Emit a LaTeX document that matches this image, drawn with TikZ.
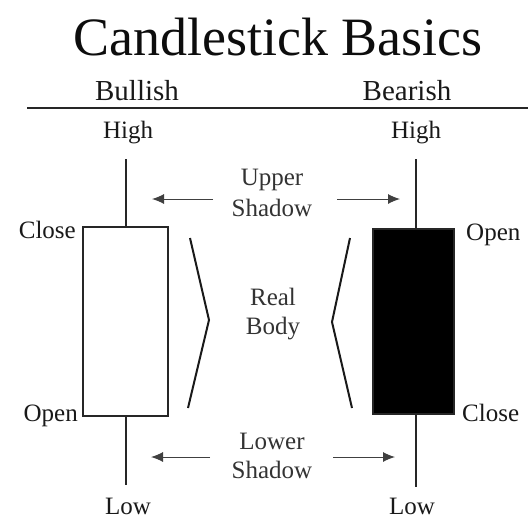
\documentclass[tikz,border=0pt]{standalone}
\usepackage{fontspec}
\setmainfont{Liberation Serif}
\usetikzlibrary{arrows.meta}
\begin{document}
\begin{tikzpicture}[x=1pt,y=-1pt,
  heading/.style={font=\fontsize{29}{32}\selectfont, text=black!90, inner sep=0pt, anchor=base},
  lbl/.style={font=\fontsize{25}{30}\selectfont, text=black!90, inner sep=0pt, anchor=base},
  note/.style={lbl, text=black!80},
  wick/.style={line width=2.4pt, black!85},
  brk/.style={line width=2pt, black!90},
  ptr/.style={line width=1pt, black!75, -{Latex[length=12pt,width=10pt]}},
  candle/.style={draw=black!85, line width=2pt, inner sep=0pt}
]
\useasboundingbox (0,0) rectangle (528,520);

% titles and the rule under the column headings
\node[anchor=base, inner sep=0pt, font=\fontsize{54}{60}\selectfont, text=black!95] (title) at (278,55) {Candlestick Basics};
\node[heading] (bull) at (137,100) {Bullish};
\node[heading] (bear) at (407,100) {Bearish};
\coordinate (ruleA) at (27,108);
\coordinate (ruleB) at (528,108);
\draw[line width=2.6pt, black!85] (ruleA) -- (ruleB);

% bullish candle
\node[candle, fill=white, minimum width=85pt, minimum height=189pt] (bodyL) at (125.5,321.5) {};
\coordinate (hiL) at (126,159);
\coordinate (loL) at (126,485);
\draw[wick] (hiL) -- (hiL |- bodyL.north);
\draw[wick] (loL |- bodyL.south) -- (loL);
\node[lbl] (highL) at (128,138) {High};
\node[lbl, anchor=base east] (closeL) at (76,238) {Close};
\node[lbl, anchor=base east] (openL) at (78,421) {Open};
\node[lbl] (lowL) at (128,514) {Low};

% bearish candle
\node[candle, fill=black, minimum width=81pt, minimum height=185pt] (bodyR) at (413.5,321.5) {};
\coordinate (hiR) at (416,159);
\coordinate (loR) at (416,487);
\draw[wick] (hiR) -- (hiR |- bodyR.north);
\draw[wick] (loR |- bodyR.south) -- (loR);
\node[lbl] (highR) at (416,138) {High};
\node[lbl, anchor=base west] (openR) at (466,240) {Open};
\node[lbl, anchor=base west] (closeR) at (462,421) {Close};
\node[lbl] (lowR) at (412,514) {Low};

% upper shadow
\node[note] (upA) at (272,185) {Upper};
\node[note] (upB) at (272,216) {Shadow};
\coordinate (upLs) at (213,199);
\coordinate (upLt) at (152,199);
\coordinate (upRs) at (337,199);
\coordinate (upRt) at (400,199);
\draw[ptr] (upLs) -- (upLt);
\draw[ptr] (upRs) -- (upRt);

% real body with its brackets
\node[note] (realA) at (273,305) {Real};
\node[note] (realB) at (273,334) {Body};
\coordinate (bl1) at (190,238);
\coordinate (bl2) at (209,320);
\coordinate (bl3) at (188,408);
\coordinate (br1) at (350,238);
\coordinate (br2) at (332,322);
\coordinate (br3) at (352,408);
\draw[brk] (bl1) -- (bl2) -- (bl3);
\draw[brk] (br1) -- (br2) -- (br3);

% lower shadow
\node[note] (lowA) at (272,449) {Lower};
\node[note] (lowB) at (272,478) {Shadow};
\coordinate (loLs) at (210,457);
\coordinate (loLt) at (151,457);
\coordinate (loRs) at (333,457);
\coordinate (loRt) at (395,457);
\draw[ptr] (loLs) -- (loLt);
\draw[ptr] (loRs) -- (loRt);
\end{tikzpicture}
\end{document}
